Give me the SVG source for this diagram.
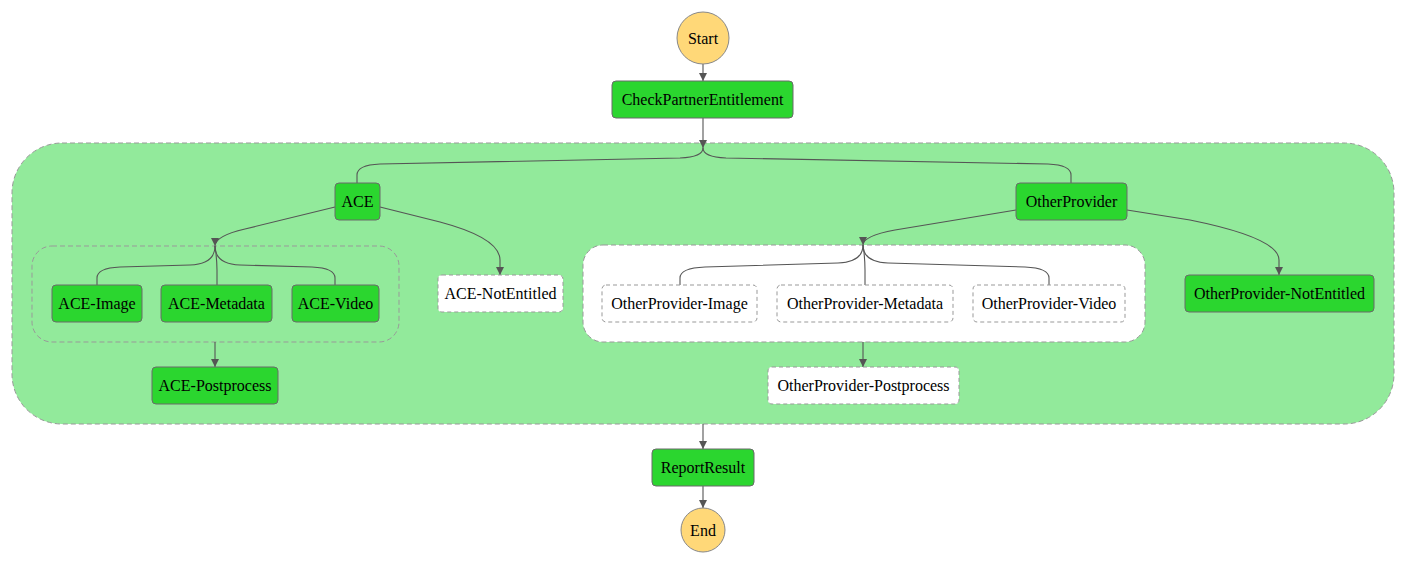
<svg xmlns="http://www.w3.org/2000/svg" width="1407" height="565" viewBox="0 0 1407 565">
<defs>
<style>
.t{font-size:16px;fill:#000;text-anchor:middle}
.g{fill:#2bd62f;stroke:#6a6a6a;stroke-width:1}
.w{fill:#fff;stroke:#999;stroke-width:1;stroke-dasharray:4,3}
.c{fill:#ffd878;stroke:#888;stroke-width:1}
.e{fill:none;stroke:#555;stroke-width:1.1}
.grp{fill:none;stroke:#999;stroke-width:1;stroke-dasharray:5,3}
</style>
<marker id="arr" viewBox="0 0 10 10" refX="10" refY="5" markerWidth="8" markerHeight="8" markerUnits="userSpaceOnUse" orient="auto">
<path d="M0,0 L10,5 L0,10 z" fill="#555"/>
</marker>
</defs>
<rect width="1407" height="565" fill="#fff"/>

<g id="parallel-main">
<rect x="12" y="143" width="1382" height="281" rx="50" ry="50" fill="#92ea9b" stroke="#999" stroke-width="1" stroke-dasharray="5,3"/>
</g>
<g id="ace-parallel">
<rect x="32" y="246" width="367" height="96" rx="20" ry="20" class="grp"/>
</g>
<g id="op-parallel">
<rect x="583" y="245" width="562" height="97" rx="20" ry="20" fill="#fff" stroke="#999" stroke-width="1" stroke-dasharray="5,3"/>
</g>

<g id="connectors">
<path class="e" d="M703,64 V81" marker-end="url(#arr)"/>
<path class="e" d="M703,118 V148" marker-end="url(#arr)"/>
<path class="e" d="M703,148 Q703,157 680,158 L380,164 Q357,165 357,175 V183"/>
<path class="e" d="M703,148 Q703,157 726,158 L1048,164 Q1071,165 1071,175 V183"/>
<path class="e" d="M335,207 L245,229 Q215,236 215,246" marker-end="url(#arr)"/>
<path class="e" d="M215,246 Q215,264 190,265 L120,267 Q97,268 97,278 V285"/>
<path class="e" d="M215,246 Q217,260 217,270 V285"/>
<path class="e" d="M215,246 Q215,264 240,265 L312,267 Q335,268 335,278 V285"/>
<path class="e" d="M380,207 L440,222 Q500,238 500,260 V275" marker-end="url(#arr)"/>
<path class="e" d="M215,342 V367" marker-end="url(#arr)"/>
<path class="e" d="M1016,210 L895,230 Q863,236 863,245" marker-end="url(#arr)"/>
<path class="e" d="M863,245 Q863,262 838,263 L705,267 Q680,268 680,278 V285"/>
<path class="e" d="M863,245 Q865,258 865,270 V285"/>
<path class="e" d="M863,245 Q863,262 888,263 L1025,267 Q1049,268 1049,278 V285"/>
<path class="e" d="M1127,210 L1190,220 Q1279,238 1279,260 V275" marker-end="url(#arr)"/>
<path class="e" d="M863,342 V367" marker-end="url(#arr)"/>
<path class="e" d="M703,424 V449" marker-end="url(#arr)"/>
<path class="e" d="M703,486 V508" marker-end="url(#arr)"/>
</g>

<g font-family="Liberation Serif, serif">
<g id="start"><circle cx="703" cy="38" r="26" class="c"/><text x="703" y="43.5" class="t">Start</text></g>
<g id="check"><rect x="612" y="81" width="181" height="37" rx="4" class="g"/><text x="702.5" y="105" class="t">CheckPartnerEntitlement</text></g>
<g id="ace"><rect x="335" y="183" width="45" height="37" rx="4" class="g"/><text x="357.5" y="207" class="t">ACE</text></g>
<g id="otherprovider"><rect x="1016" y="183" width="111" height="37" rx="4" class="g"/><text x="1071.5" y="207" class="t">OtherProvider</text></g>
<g id="ace-image"><rect x="52" y="285" width="90" height="37" rx="4" class="g"/><text x="97" y="309" class="t">ACE-Image</text></g>
<g id="ace-metadata"><rect x="161" y="285" width="111" height="37" rx="4" class="g"/><text x="216.5" y="309" class="t">ACE-Metadata</text></g>
<g id="ace-video"><rect x="292" y="285" width="87" height="37" rx="4" class="g"/><text x="335.5" y="309" class="t">ACE-Video</text></g>
<g id="ace-postprocess"><rect x="152" y="367" width="126" height="37" rx="4" class="g"/><text x="215" y="391" class="t">ACE-Postprocess</text></g>
<g id="ace-notentitled"><rect x="438" y="275" width="125" height="37" rx="4" class="w"/><text x="500.5" y="299" class="t">ACE-NotEntitled</text></g>
<g id="op-image"><rect x="602" y="285" width="155" height="37" rx="4" class="w"/><text x="679.5" y="309" class="t">OtherProvider-Image</text></g>
<g id="op-metadata"><rect x="777" y="285" width="176" height="37" rx="4" class="w"/><text x="865" y="309" class="t">OtherProvider-Metadata</text></g>
<g id="op-video"><rect x="973" y="285" width="152" height="37" rx="4" class="w"/><text x="1049" y="309" class="t">OtherProvider-Video</text></g>
<g id="op-postprocess"><rect x="768" y="367" width="191" height="37" rx="4" class="w"/><text x="863.5" y="391" class="t">OtherProvider-Postprocess</text></g>
<g id="op-notentitled"><rect x="1185" y="275" width="189" height="37" rx="4" class="g"/><text x="1279.5" y="299" class="t">OtherProvider-NotEntitled</text></g>
<g id="report"><rect x="652" y="449" width="102" height="37" rx="4" class="g"/><text x="703" y="473" class="t">ReportResult</text></g>
<g id="end"><circle cx="703" cy="530" r="22" class="c"/><text x="703" y="535.5" class="t">End</text></g>
</g>
</svg>
